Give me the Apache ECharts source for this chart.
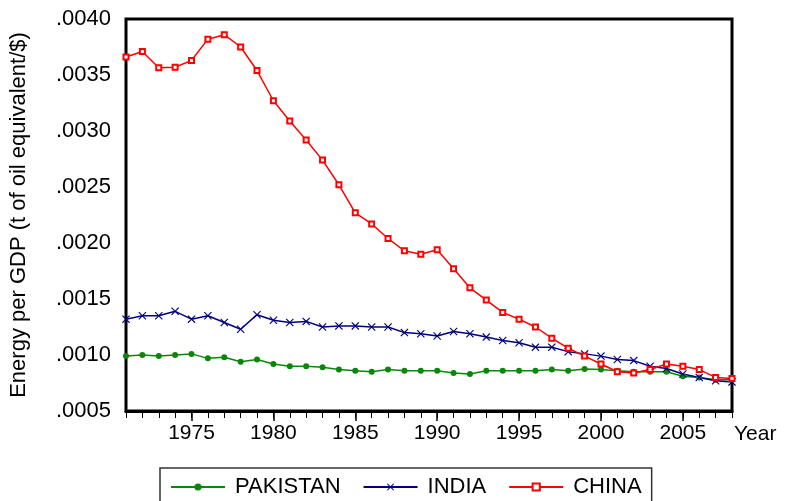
<!DOCTYPE html>
<html>
<head>
<meta charset="utf-8">
<script src="https://cdn.jsdelivr.net/npm/echarts@6/dist/echarts.min.js"></script>
<style>
  html, body { margin: 0; padding: 0; background: #fff; }
  #main { width: 786px; height: 501px; }
</style>
</head>
<body>
<div id="main"></div>
<script>
// years on the x axis
var years = [];
for (var y = 1971; y <= 2008; y++) years.push(String(y));

var pakistan = [0.00099, 0.00100, 0.00099, 0.00100, 0.00101, 0.00097, 0.00098, 0.00094, 0.00096, 0.00092,
  0.00090, 0.00090, 0.00089, 0.00087, 0.00086, 0.00085, 0.00087, 0.00086, 0.00086, 0.00086,
  0.00084, 0.00083, 0.00086, 0.00086, 0.00086, 0.00086, 0.00087, 0.00086, 0.000875, 0.00087,
  0.00086, 0.00085, 0.00085, 0.00085, 0.00081, 0.00080, 0.00078, 0.00078];

var india = [0.00132, 0.00135, 0.00135, 0.00139, 0.00132, 0.00135, 0.00129, 0.00123, 0.00136, 0.00131,
  0.00129, 0.00130, 0.00125, 0.00126, 0.00126, 0.00125, 0.00125, 0.00120, 0.00119, 0.00117,
  0.00121, 0.00119, 0.00116, 0.00113, 0.00111, 0.00107, 0.00107, 0.00103, 0.00101, 0.00099,
  0.00096, 0.00095, 0.00090, 0.00088, 0.00083, 0.00080, 0.00077, 0.00076];

var china = [0.00366, 0.00371, 0.003565, 0.00357, 0.00363, 0.00382, 0.00386, 0.00375, 0.00354, 0.00327,
  0.00309, 0.00292, 0.00274, 0.00252, 0.00227, 0.00217, 0.00204, 0.00193, 0.00190, 0.00194,
  0.00177, 0.00160, 0.00149, 0.00138, 0.00132, 0.00125, 0.00115, 0.00106, 0.00099, 0.00092,
  0.00085, 0.00084, 0.00087, 0.00092, 0.00090, 0.00087, 0.00080, 0.00079];

var yMin = 0.0005, yMax = 0.0040, yStep = 0.0005;

var font = '"Liberation Sans", Arial, sans-serif';
var crossSymbol = 'path://M1,0 L5,4 L9,0 L10,1 L6,5 L10,9 L9,10 L5,6 L1,10 L0,9 L4,5 L0,1 Z';

var myChart = echarts.init(document.getElementById('main'));
myChart.setOption({
  animation: false,
  backgroundColor: '#fff',
  textStyle: { fontFamily: font, color: '#000' },
  grid: {
    left: 123, right: 54, top: 19, bottom: 90,
    show: true, borderColor: '#000', borderWidth: 3, backgroundColor: 'transparent'
  },
  legend: {
    left: 160, top: 468,
    padding: [8, 10, 8, 10],
    borderColor: '#333', borderWidth: 1.5,
    itemWidth: 54, itemHeight: 9, itemGap: 22,
    textStyle: { fontSize: 22, color: '#000', fontFamily: font, padding: [0, 0, 0, 5] },
    data: ['PAKISTAN', 'INDIA', 'CHINA']
  },
  xAxis: [{
    type: 'category',
    data: years,
    boundaryGap: false,
    name: 'Year',
    nameLocation: 'end',
    nameGap: 2,
    nameTextStyle: { fontSize: 21, color: '#000', verticalAlign: 'top', padding: [13, 0, 0, 0] },
    axisLine: { lineStyle: { color: '#000', width: 3 } },
    axisTick: { interval: 0, length: 7, lineStyle: { color: '#000', width: 1 } },
    axisLabel: {
      fontSize: 21, color: '#000', margin: 12,
      interval: function (i, v) { return Number(v) % 5 === 0; }
    },
    splitLine: { show: false }
  }, {
    type: 'category',
    data: years,
    boundaryGap: false,
    position: 'bottom',
    axisLine: { show: false },
    axisTick: {
      length: 10, lineStyle: { color: '#000', width: 1.5 },
      interval: function (i, v) { return Number(v) % 5 === 0; }
    },
    axisLabel: { show: false },
    splitLine: { show: false }
  }],
  yAxis: {
    type: 'value',
    min: yMin, max: yMax, interval: yStep,
    name: 'Energy per GDP (t of oil equivalent/$)',
    nameLocation: 'middle',
    nameGap: 96,
    nameTextStyle: { fontSize: 22, color: '#000' },
    axisLine: { lineStyle: { color: '#000', width: 3 } },
    axisTick: { length: 10, lineStyle: { color: '#000', width: 1 } },
    axisLabel: {
      fontSize: 22, color: '#000', margin: 15,
      formatter: function (v) { return v.toFixed(4).replace(/^0/, ''); }
    },
    splitLine: { show: false }
  },
  series: [{
    name: 'PAKISTAN',
    type: 'line',
    data: pakistan,
    symbol: 'circle', symbolSize: 6, showAllSymbol: true,
    itemStyle: { color: '#0a870a' },
    lineStyle: { color: '#0a870a', width: 1.5 }
  }, {
    name: 'INDIA',
    type: 'line',
    data: india,
    symbol: crossSymbol, symbolSize: 8, showAllSymbol: true,
    itemStyle: { color: '#00007f' },
    lineStyle: { color: '#00007f', width: 1.5 }
  }, {
    name: 'CHINA',
    type: 'line',
    data: china,
    symbol: 'emptyRect', symbolSize: 5, showAllSymbol: true,
    itemStyle: { color: '#ff0000', borderWidth: 1 },
    lineStyle: { color: '#ff0000', width: 1.5 }
  }]
});
</script>
</body>
</html>
